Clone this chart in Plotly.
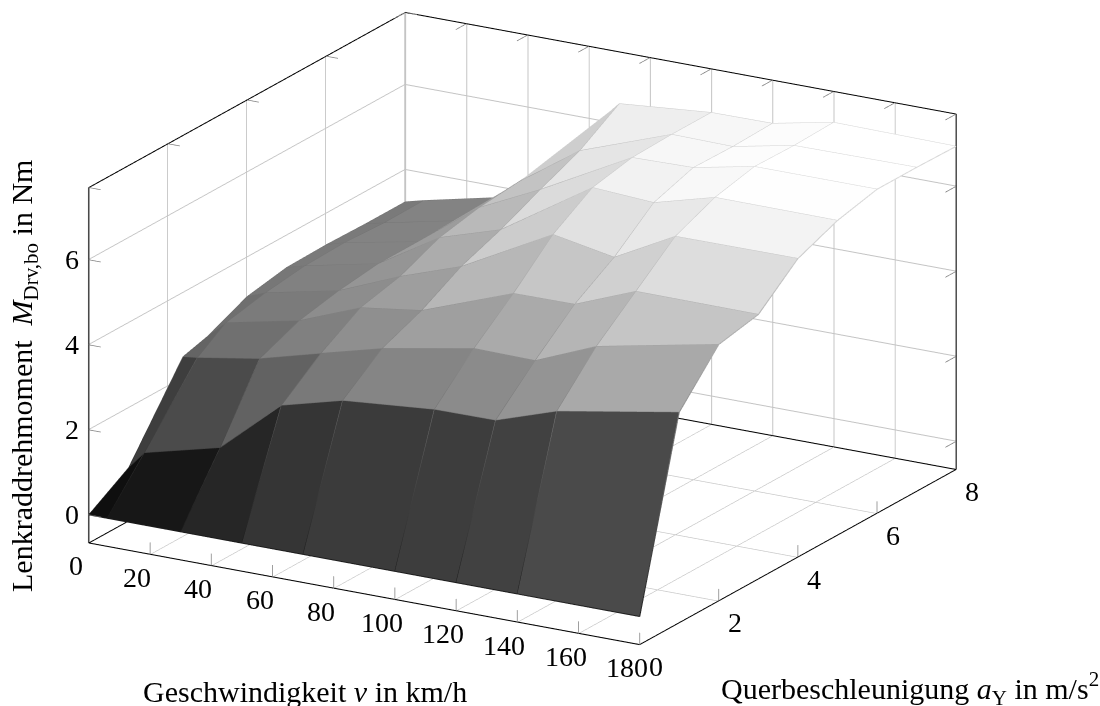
import numpy as np
import plotly.graph_objects as go

speed = [0, 6, 30, 50, 70, 100, 120, 140, 180]
accel_rows = [0, 1, 2, 3, 4, 5, 6, 7, 8]
accel_first_col = [0, 1.01, 2.38, 3, 4, 5, 6, 7, 8]
accel_second_col = [0, 0.94, 2.28, 3, 4, 5, 6, 7, 8]
torque = [
    [0, 0, 0, 0, 0, 0, 0, 0, 0],
    [0.59, 1.05, 1.46, 2.72, 3.10, 3.29, 3.30, 3.78, 4.29],
    [2.49, 2.60, 3.04, 3.43, 3.81, 4.21, 4.19, 4.79, 5.37],
    [2.65, 3.05, 3.42, 3.99, 4.19, 4.99, 5.00, 5.57, 5.56],
    [3.07, 3.24, 3.61, 4.21, 4.71, 5.86, 5.59, 6.35, 6.36],
    [3.24, 3.36, 3.73, 4.61, 5.06, 6.45, 6.36, 6.75, 6.74],
    [3.26, 3.39, 3.73, 4.80, 5.49, 6.64, 6.67, 6.96, 6.96],
    [3.24, 3.34, 3.71, 4.89, 5.89, 6.67, 6.65, 6.94, 6.96],
    [3.24, 3.35, 3.74, 4.99, 6.48, 6.67, 6.68, 6.97, 6.94],
]
x_ticks = [0, 20, 40, 60, 80, 100, 120, 140, 160, 180]
y_ticks = [0, 2, 4, 6, 8]
z_ticks = [0, 2, 4, 6]
x_range = [0, 180]
y_range = [0, 8]
z_range = [-0.66, 7.7]

FONT = "Liberation Serif"
V = np.array(speed, float)
Z = np.array(torque, float)
nr, nc = Z.shape
X = np.tile(V, (nr, 1))
Y = np.tile(np.array(accel_rows, float)[:, None], (1, nc))
Y[:, 0] = accel_first_col
Y[:, 1] = accel_second_col

idx = np.arange(nr * nc).reshape(nr, nc)
i, j, k, cell = [], [], [], []
for r in range(nr - 1):
    for c in range(nc - 1):
        m = Z[r:r + 2, c:c + 2].mean()
        a, b, d, e = idx[r, c], idx[r, c + 1], idx[r + 1, c + 1], idx[r + 1, c]
        i += [a, a]; j += [b, d]; k += [d, e]; cell += [m, m]

gray = [[0, "#000000"], [1, "#ffffff"]]
fig = go.Figure()
fig.add_trace(go.Mesh3d(
    x=X.ravel(), y=Y.ravel(), z=Z.ravel(), i=i, j=j, k=k,
    intensity=cell, intensitymode="cell", colorscale=gray, cmin=0, cmax=6.9,
    showscale=False, flatshading=True, hoverinfo="skip",
    lighting=dict(ambient=1, diffuse=0, specular=0, roughness=1, fresnel=0),
))

# facet edges
ex, ey, ez = [], [], []
for r in range(nr):
    ex += list(X[r]) + [None]; ey += list(Y[r]) + [None]; ez += list(Z[r]) + [None]
for c in range(nc):
    ex += list(X[:, c]) + [None]; ey += list(Y[:, c]) + [None]; ez += list(Z[:, c]) + [None]
ec = [v if v is not None else 0 for v in ez]
fig.add_trace(go.Scatter3d(
    x=ex, y=ey, z=ez, mode="lines", hoverinfo="skip", showlegend=False,
    line=dict(width=2, color=ec, colorscale=gray, cmin=-1, cmax=8.5),
))

x0, x1 = x_range; y0, y1 = y_range; z0, z1 = z_range

def segments_trace(segs, color, width):
    sx, sy, sz = [], [], []
    for p, q in segs:
        sx += [p[0], q[0], None]; sy += [p[1], q[1], None]; sz += [p[2], q[2], None]
    return go.Scatter3d(x=sx, y=sy, z=sz, mode="lines", hoverinfo="skip", showlegend=False,
                        line=dict(width=width, color=color))

# small tick marks
dx, dy, dz = 3.85, 0.27, 0.28
tick_segs = []
for t in x_ticks:
    tick_segs.append(((t, y0, z0), (t, y0, z0 + dz)))
    tick_segs.append(((t, y1, z1), (t, y1 - dy, z1)))
for t in y_ticks:
    tick_segs.append(((x1, t, z0), (x1, t, z0 + dz)))
    tick_segs.append(((x0, t, z1), (x0 + dx, t, z1)))
for t in z_ticks:
    tick_segs.append(((x0, y0, t), (x0 + dx, y0, t)))
    tick_segs.append(((x1, y1, t), (x1, y1 - dy, t)))
fig.add_trace(segments_trace(tick_segs, "#808080", 1.5))

# box outline
box_segs = [
    ((x0, y0, z0), (x1, y0, z0)), ((x1, y0, z0), (x1, y1, z0)),
    ((x0, y0, z0), (x0, y1, z0)), ((x0, y1, z0), (x1, y1, z0)),
    ((x0, y0, z0), (x0, y0, z1)), ((x1, y1, z0), (x1, y1, z1)),
    ((x0, y0, z1), (x0, y1, z1)), ((x0, y1, z1), (x1, y1, z1)),
]
fig.add_trace(segments_trace(box_segs, "#000000", 2))

def axis(rng, ticks, pad):
    return dict(range=[rng[0] - pad, rng[1] + pad], tickvals=ticks, showticklabels=False,
                showgrid=True, gridcolor="#c4c4c4", gridwidth=2, showline=False, zeroline=False,
                showbackground=False, showspikes=False, title=dict(text=""), ticks="", autorange=False)

tick_font = dict(family=FONT, size=28, color="#000000")
def tick_label(x, y, z, text, xs, ys):
    return dict(x=x, y=y, z=z, text=text, showarrow=False, xanchor="center", yanchor="middle",
                xshift=xs, yshift=ys, font=tick_font)

scene_notes = []
scene_notes += [tick_label(t, y0, z0, str(t), -13, -23) for t in x_ticks]
scene_notes += [tick_label(x1, t, z0, str(t), 16, -22) for t in y_ticks]
scene_notes += [tick_label(x0, y0, t, str(t), -17, 0) for t in z_ticks]

phi = np.arcsin(0.3196)
alpha = np.radians(60)
r = 8.0
eye = dict(x=r * np.cos(phi) * np.cos(alpha), y=-r * np.cos(phi) * np.sin(alpha), z=r * np.sin(phi))

title_font = dict(family=FONT, size=30, color="#000")
fig.update_layout(
    width=1100, height=706, margin=dict(l=0, r=0, t=0, b=0),
    paper_bgcolor="white", showlegend=False,
    scene=dict(
        domain=dict(x=[0, 0.95], y=[0.0694, 1]),
        xaxis=axis(x_range, x_ticks, 0.18), yaxis=axis(y_range, y_ticks, 0.008), zaxis=axis(z_range, z_ticks, 0.008),
        aspectmode="manual", aspectratio=dict(x=1.94, y=1.93, z=1.144),
        camera=dict(projection=dict(type="orthographic"), eye=eye, up=dict(x=0, y=0, z=1),
                    center=dict(x=0, y=0, z=0)),
        annotations=scene_notes,
    ),
    annotations=[
        dict(text="Geschwindigkeit <i>v</i> in km/h", xref="paper", yref="paper", x=305 / 1100, y=1 - 691 / 706,
             xanchor="center", yanchor="middle", showarrow=False, font=title_font),
        dict(text="Querbeschleunigung <i>a</i><sub>Y</sub> in m/s<sup>2</sup>", xref="paper", yref="paper",
             x=910 / 1100, y=1 - 688 / 706, xanchor="center", yanchor="middle", showarrow=False, font=title_font),
        dict(text="Lenkraddrehmoment  <i>M</i><sub>Drv,bo</sub> in Nm", xref="paper", yref="paper", x=24 / 1100,
             y=1 - 376 / 706, xanchor="center", yanchor="middle", showarrow=False, textangle=-90, font=title_font),
    ],
)
fig.write_html("out.html", config=dict(displayModeBar=False),
               post_script="document.body.style.margin='0';document.body.style.overflow='hidden';")
